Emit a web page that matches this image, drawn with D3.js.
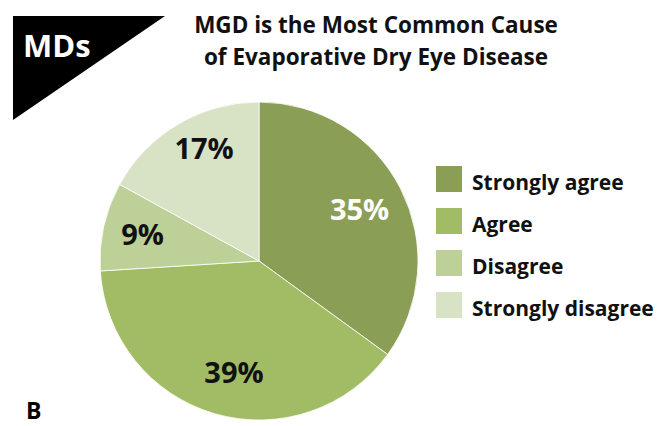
<!DOCTYPE html>
<html>
<head>
<meta charset="utf-8">
<script src="https://cdn.jsdelivr.net/npm/d3@7"></script>
<style>
  html, body { margin: 0; padding: 0; background: #fff; }
  svg { display: block; font-family: "Open Sans", Lato, sans-serif; font-weight: bold; }
</style>
</head>
<body>
<svg id="chart" width="671" height="426"></svg>
<script>
// Survey responses, clockwise from 12 o'clock
const categories = ["Strongly agree", "Agree", "Disagree", "Strongly disagree"];
const values = [35, 39, 9, 17];
const colors = ["#8A9F55", "#A2BB65", "#BDD097", "#D8E2C5"];
const labelColors = ["#ffffff", "#111111", "#111111", "#111111"];
// placement of each percentage label: fraction of the radius, and a small turn (degrees) off the bisector
const labelRadius = [0.71, 0.716, 0.75, 0.785];
const labelTurn = [0, -3.5, 0, 4.5];
const titleLines = ["MGD is the Most Common Cause", "of Evaporative Dry Eye Disease"];

const svg = d3.select("#chart");

// Corner badge
svg.append("path")
  .attr("d", "M13,16 L165,16 L13,120 Z")
  .attr("fill", "#000");
svg.append("text")
  .attr("x", 23).attr("y", 57)
  .attr("fill", "#fff")
  .attr("font-size", 31)
  .text("MDs");

// Title
svg.append("g").selectAll("text")
  .data(titleLines)
  .join("text")
  .attr("x", 376)
  .attr("y", (d, i) => 33 + i * 32)
  .attr("text-anchor", "middle")
  .attr("font-size", 22.5)
  .attr("fill", "#111")
  .text(d => d);

// Pie
const cx = 259, cy = 261, r = 159;
const pie = d3.pie().sort(null).value(d => d.value);
const arcs = pie(categories.map((c, i) => ({ name: c, value: values[i], i })));
const arc = d3.arc().innerRadius(0).outerRadius(r);

const g = svg.append("g").attr("transform", `translate(${cx},${cy})`);
g.selectAll("path")
  .data(arcs)
  .join("path")
  .attr("d", arc)
  .attr("fill", d => colors[d.data.i])
  .attr("stroke", "#fff")
  .attr("stroke-width", 0.8);

g.selectAll("text")
  .data(arcs)
  .join("text")
  .attr("transform", d => {
    const lr = r * labelRadius[d.data.i];
    const a = (d.startAngle + d.endAngle) / 2 + labelTurn[d.data.i] * Math.PI / 180;
    return `translate(${lr * Math.sin(a)},${-lr * Math.cos(a)})`;
  })
  .attr("text-anchor", "middle")
  .attr("dy", "0.36em")
  .attr("font-size", 29)
  .attr("fill", d => labelColors[d.data.i])
  .text(d => d.data.value + "%");

// Legend
const legend = svg.append("g").attr("transform", "translate(436,166)");
const rows = legend.selectAll("g")
  .data(categories)
  .join("g")
  .attr("transform", (d, i) => `translate(0,${i * 42})`);
rows.append("rect")
  .attr("width", 26).attr("height", 26)
  .attr("fill", (d, i) => colors[i]);
rows.append("text")
  .attr("x", 36).attr("y", 23.5)
  .attr("font-size", 21)
  .attr("fill", "#111")
  .text(d => d);

// Panel letter
svg.append("text")
  .attr("x", 26).attr("y", 419)
  .attr("font-size", 23)
  .attr("fill", "#000")
  .text("B");
</script>
</body>
</html>
